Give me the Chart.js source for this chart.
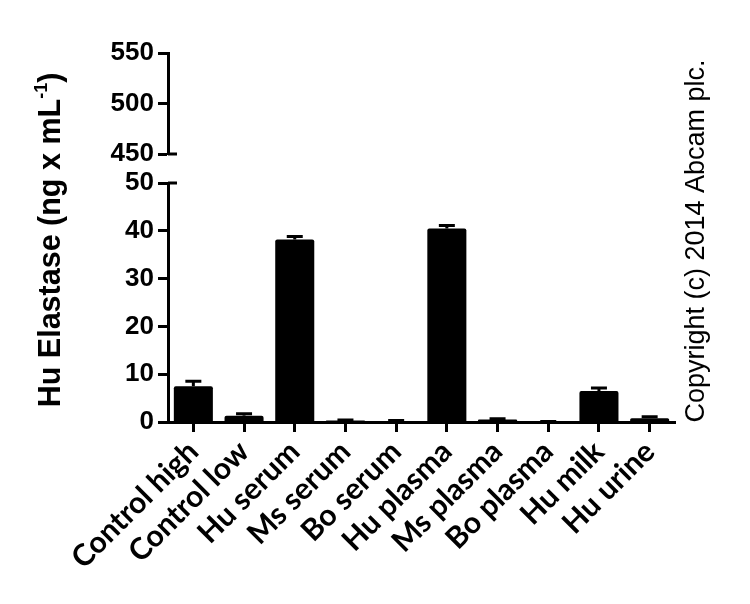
<!DOCTYPE html>
<html>
<head>
<meta charset="utf-8">
<script src="https://cdn.jsdelivr.net/npm/chart.js@4/dist/chart.umd.min.js"></script>
<style>
  html, body { margin: 0; padding: 0; background: #fff; }
  #wrap { width: 750px; height: 604px; }
</style>
</head>
<body>
<div id="wrap"><canvas id="chart"></canvas></div>
<script>
// samples on the x axis
const categories = ['Control high', 'Control low', 'Hu serum', 'Ms serum', 'Bo serum',
  'Hu plasma', 'Ms plasma', 'Bo plasma', 'Hu milk', 'Hu urine'];
// mean elastase, ng/mL
const means = [7.5, 1.3, 38.2, 0.3, 0.2, 40.5, 0.5, 0.05, 6.5, 0.8];
// upper error (SD)
const errors = [1.0, 0.4, 0.6, 0.1, 0.1, 0.6, 0.2, 0.05, 0.6, 0.3];
// the two segments of the broken y axis
const lowerRange = [0, 50];
const upperRange = [450, 550];

const yTitle = ['Hu Elastase (ng x mL', '-1', ')'];
const copyright = 'Copyright (c) 2014 Abcam plc.';

// up-only error bars, GraphPad style
const errorBars = {
  id: 'errorBars',
  afterDatasetsDraw(chart) {
    const ctx = chart.ctx;
    const y = chart.scales.y;
    const meta = chart.getDatasetMeta(0);
    ctx.save();
    ctx.strokeStyle = '#000';
    ctx.lineWidth = 3;
    meta.data.forEach((bar, i) => {
      const top = y.getPixelForValue(means[i] + errors[i]);
      ctx.beginPath();
      ctx.moveTo(bar.x, bar.y);
      ctx.lineTo(bar.x, top);
      ctx.moveTo(bar.x - 8, top);
      ctx.lineTo(bar.x + 8, top);
      ctx.stroke();
    });
    ctx.restore();
  }
};

// little marks either side of the axis break + the side texts
const decorations = {
  id: 'decorations',
  afterDraw(chart) {
    const ctx = chart.ctx;
    const left = chart.chartArea.left;
    ctx.save();
    ctx.strokeStyle = '#000';
    ctx.lineWidth = 3;
    [chart.scales.yTop.getPixelForValue(upperRange[0]), chart.scales.y.getPixelForValue(lowerRange[1])]
      .forEach(py => {
        ctx.beginPath();
        ctx.moveTo(left, py);
        ctx.lineTo(left + 9, py);
        ctx.stroke();
      });

    // y title with superscript
    ctx.fillStyle = '#000';
    ctx.translate(60, 240);
    ctx.rotate(-Math.PI / 2);
    const big = 'bold 30.5px "Liberation Sans", Arial, sans-serif';
    const small = 'bold 18px "Liberation Sans", Arial, sans-serif';
    ctx.font = big;
    const w1 = ctx.measureText(yTitle[0]).width;
    const w3 = ctx.measureText(yTitle[2]).width;
    ctx.font = small;
    const w2 = ctx.measureText(yTitle[1]).width;
    let x = -(w1 + w2 + w3) / 2;
    ctx.textBaseline = 'alphabetic';
    ctx.textAlign = 'left';
    ctx.font = big;
    ctx.fillText(yTitle[0], x, 0);
    x += w1;
    ctx.font = small;
    ctx.fillText(yTitle[1], x, -13);
    x += w2;
    ctx.font = big;
    ctx.fillText(yTitle[2], x, 0);
    ctx.restore();

    ctx.save();
    ctx.fillStyle = '#000';
    ctx.translate(704, 241);
    ctx.rotate(-Math.PI / 2);
    ctx.font = '27px "Liberation Sans", Arial, sans-serif';
    ctx.textAlign = 'center';
    ctx.textBaseline = 'alphabetic';
    ctx.fillText(copyright, 0, 0);
    ctx.restore();
  }
};

const tickFont = { family: '"Liberation Sans", Arial, sans-serif', size: 26, weight: 'bold' };
const yCommon = {
  position: 'left',
  stack: 'broken',
  grid: { drawOnChartArea: false, tickLength: 10, tickWidth: 3, tickColor: '#000' },
  border: { color: '#000', width: 3 },
  ticks: { color: '#000', font: tickFont, padding: 4 },
  afterFit: s => { s.width = 168; }
};

new Chart(document.getElementById('chart'), {
  type: 'bar',
  data: {
    labels: categories,
    datasets: [{
      data: means,
      backgroundColor: '#000',
      borderColor: '#000',
      borderRadius: 2,
      barPercentage: 0.77,
      categoryPercentage: 1,
      yAxisID: 'y'
    }]
  },
  options: {
    responsive: true,
    maintainAspectRatio: false,
    animation: false,
    layout: { padding: { top: 53, right: 75, left: 0, bottom: 0 } },
    plugins: { legend: { display: false }, tooltip: { enabled: false } },
    scales: {
      x: {
        offset: true,
        grid: { offset: false, drawOnChartArea: false, tickLength: 10, tickWidth: 3, tickColor: '#000' },
        border: { color: '#000', width: 3 },
        ticks: {
          color: '#000',
          autoSkip: false,
          minRotation: 45,
          maxRotation: 45,
          padding: 2,
          font: { family: 'Lato, "Open Sans", sans-serif', size: 30, weight: 'bold' }
        },
        afterFit: s => { s.height = 182; }
      },
      y: Object.assign({}, yCommon, {
        stackWeight: 239,
        min: lowerRange[0],
        max: lowerRange[1],
        ticks: Object.assign({}, yCommon.ticks, { stepSize: 10 })
      }),
      yGap: {
        position: 'left',
        stack: 'broken',
        stackWeight: 29,
        min: 0,
        max: 1,
        grid: { display: false },
        border: { display: false },
        ticks: { display: false },
        afterFit: s => { s.width = 168; }
      },
      yTop: Object.assign({}, yCommon, {
        stackWeight: 101,
        min: upperRange[0],
        max: upperRange[1],
        ticks: Object.assign({}, yCommon.ticks, { stepSize: 50 })
      })
    }
  },
  plugins: [errorBars, decorations]
});
</script>
</body>
</html>
